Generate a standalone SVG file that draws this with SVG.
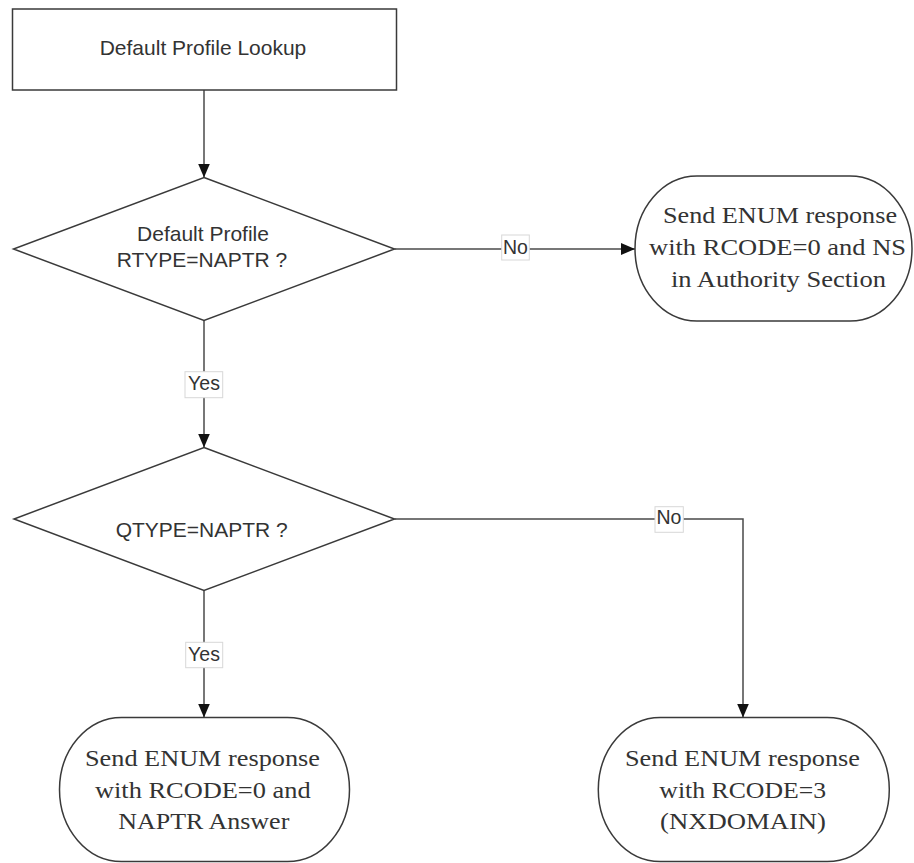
<svg xmlns="http://www.w3.org/2000/svg" width="914" height="863" viewBox="0 0 914 863">
<defs>
<style>
.shape{fill:#fff;stroke:#3a3a3a;stroke-width:1.5}
.conn{fill:none;stroke:#4a4a4a;stroke-width:1.5}
.lbl{fill:#fff;stroke:#d8d8d8;stroke-width:1}
.sans{font-family:"Liberation Sans",Arial,sans-serif;font-size:21px;fill:#333;text-anchor:middle}
.lt{font-family:"Liberation Sans",Arial,sans-serif;font-size:19.5px;fill:#333;text-anchor:middle}
.serif{font-family:"Liberation Serif","Times New Roman",serif;font-size:24px;fill:#333;text-anchor:middle}
</style>
<marker id="arr" markerUnits="userSpaceOnUse" markerWidth="14" markerHeight="12" refX="14" refY="6" orient="auto">
<path d="M0,0 L14,6 L0,12 z" fill="#111"/>
</marker>
</defs>
<rect width="914" height="863" fill="#fff"/>

<g id="connectors">
<path class="conn" d="M204,90 L204,177.5" marker-end="url(#arr)"/>
<path class="conn" d="M394.5,249 L635,249" marker-end="url(#arr)"/>
<path class="conn" d="M204,320.5 L204,447.5" marker-end="url(#arr)"/>
<path class="conn" d="M394.5,519 L743,519 L743,717.5" marker-end="url(#arr)"/>
<path class="conn" d="M204,590.5 L204,717.5" marker-end="url(#arr)"/>
<g id="label-no1"><rect class="lbl" x="501.7" y="235" width="27.6" height="25"/><text class="lt" x="515.5" y="254.3">No</text></g>
<g id="label-yes1"><rect class="lbl" x="185" y="371.7" width="37.7" height="26"/><text class="lt" x="204" y="390">Yes</text></g>
<g id="label-no2"><rect class="lbl" x="655" y="506.7" width="28.3" height="25.6"/><text class="lt" x="669" y="524.3">No</text></g>
<g id="label-yes2"><rect class="lbl" x="185.7" y="642.3" width="37" height="25.4"/><text class="lt" x="204" y="660.5">Yes</text></g>
</g>

<g id="start">
<rect class="shape" x="12.5" y="9" width="384" height="81"/>
<text class="sans" x="203" y="55">Default Profile Lookup</text>
</g>

<g id="decision1">
<polygon class="shape" points="204,177.5 394.5,249 204,320.5 13.5,249"/>
<text class="sans" x="203" y="240.7">Default Profile</text>
<text class="sans" x="202" y="266.7">RTYPE=NAPTR ?</text>
</g>

<g id="end-ns">
<rect class="shape" x="635" y="176" width="277" height="145" rx="62" ry="72.5"/>
<text class="serif" x="780" y="223" textLength="234" lengthAdjust="spacingAndGlyphs">Send ENUM response</text>
<text class="serif" x="777.5" y="255" textLength="257" lengthAdjust="spacingAndGlyphs">with RCODE=0 and NS</text>
<text class="serif" x="778.5" y="287" textLength="215" lengthAdjust="spacingAndGlyphs">in Authority Section</text>
</g>

<g id="decision2">
<polygon class="shape" points="204,447.5 394.5,519 204,590.5 14,519"/>
<text class="sans" x="201.7" y="537.3">QTYPE=NAPTR ?</text>
</g>

<g id="end-naptr">
<rect class="shape" x="59.5" y="717.5" width="290" height="144" rx="62" ry="72"/>
<text class="serif" x="202.5" y="766" textLength="235" lengthAdjust="spacingAndGlyphs">Send ENUM response</text>
<text class="serif" x="202.8" y="797.5" textLength="215.7" lengthAdjust="spacingAndGlyphs">with RCODE=0 and</text>
<text class="serif" x="203.8" y="829" textLength="171" lengthAdjust="spacingAndGlyphs">NAPTR Answer</text>
</g>

<g id="end-nxdomain">
<rect class="shape" x="598.3" y="717.5" width="291" height="144" rx="62" ry="72"/>
<text class="serif" x="742.5" y="766" textLength="235" lengthAdjust="spacingAndGlyphs">Send ENUM response</text>
<text class="serif" x="742.7" y="797.5" textLength="166.7" lengthAdjust="spacingAndGlyphs">with RCODE=3</text>
<text class="serif" x="743" y="829" textLength="166" lengthAdjust="spacingAndGlyphs">(NXDOMAIN)</text>
</g>
</svg>
